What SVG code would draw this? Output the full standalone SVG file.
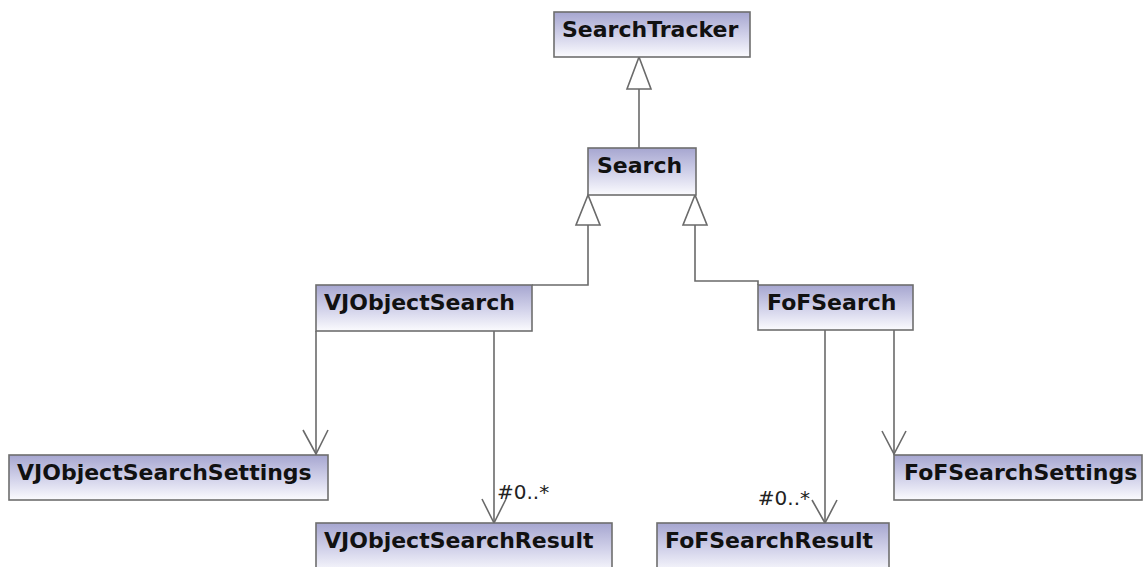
<svg xmlns="http://www.w3.org/2000/svg" width="1144" height="567" viewBox="0 0 1144 567">
<defs>
<linearGradient id="g" x1="0" y1="0" x2="0" y2="1">
<stop offset="0" stop-color="#a6a6d0"/>
<stop offset="0.55" stop-color="#d4d4eb"/>
<stop offset="1" stop-color="#fbfbfe"/>
</linearGradient>
<style>
.box{fill:url(#g);stroke:#6e6e6e;stroke-width:1.6}
.lbl{font-family:"DejaVu Sans",sans-serif;font-weight:bold;font-size:22px;fill:#111}
.ln{fill:none;stroke:#6a6a6a;stroke-width:1.6}
.tri{fill:#fff;stroke:#6a6a6a;stroke-width:1.6}
.mult{font-family:"DejaVu Sans",sans-serif;font-size:20px;fill:#222}
</style>
</defs>
<rect width="1144" height="567" fill="#fff"/>
<g id="connectors">
<line class="ln" x1="639" y1="148" x2="639" y2="89"/>
<polygon class="tri" points="639,57 627,89 651,89"/>
<polyline class="ln" points="532,285 588,285 588,225"/>
<polygon class="tri" points="588,195 576,225 600,225"/>
<polyline class="ln" points="695,225 695,281 758,281 758,285"/>
<polygon class="tri" points="695,195 683,225 707,225"/>
<line class="ln" x1="316" y1="331" x2="316" y2="455"/>
<polyline class="ln" points="303,430 316,454 328,430"/>
<line class="ln" x1="494" y1="331" x2="494" y2="523"/>
<polyline class="ln" points="482,499 494,523 506,499"/>
<text class="mult" x="497" y="499">#0..*</text>
<line class="ln" x1="825" y1="330" x2="825" y2="523"/>
<polyline class="ln" points="812,500 825,523 837,500"/>
<text class="mult" x="810" y="505" text-anchor="end">#0..*</text>
<line class="ln" x1="894" y1="330" x2="894" y2="455"/>
<polyline class="ln" points="882,431 894,454 906,431"/>
</g>
<g id="SearchTracker"><rect class="box" x="554" y="12" width="196" height="45"/><text class="lbl" x="562" y="37">SearchTracker</text></g>
<g id="Search"><rect class="box" x="588" y="148" width="108" height="47"/><text class="lbl" x="597" y="173">Search</text></g>
<g id="VJObjectSearch"><rect class="box" x="316" y="285" width="216" height="46"/><text class="lbl" x="324" y="310">VJObjectSearch</text></g>
<g id="FoFSearch"><rect class="box" x="758" y="285" width="155" height="45"/><text class="lbl" x="767" y="310">FoFSearch</text></g>
<g id="VJObjectSearchSettings"><rect class="box" x="9" y="455" width="319" height="45"/><text class="lbl" x="17" y="480">VJObjectSearchSettings</text></g>
<g id="FoFSearchSettings"><rect class="box" x="894" y="455" width="248" height="45"/><text class="lbl" x="904" y="480">FoFSearchSettings</text></g>
<g id="VJObjectSearchResult"><rect class="box" x="316" y="523" width="296" height="50"/><text class="lbl" x="324" y="548">VJObjectSearchResult</text></g>
<g id="FoFSearchResult"><rect class="box" x="657" y="523" width="232" height="50"/><text class="lbl" x="665" y="548">FoFSearchResult</text></g>
</svg>
